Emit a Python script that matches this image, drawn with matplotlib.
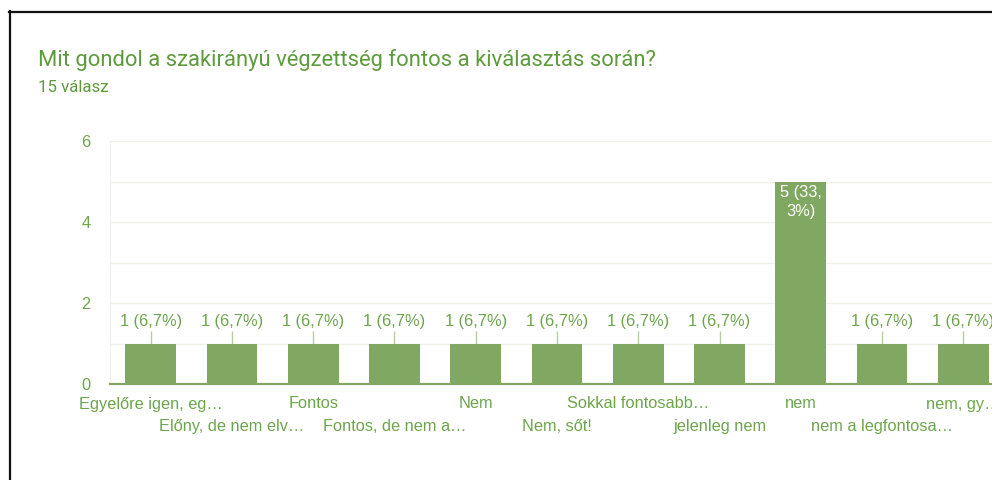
import matplotlib.pyplot as plt
from matplotlib.lines import Line2D

# answers and counts (15 responses)
categories = ["Egyelőre igen, eg…", "Előny, de nem elv…", "Fontos", "Fontos, de nem a…",
              "Nem", "Nem, sőt!", "Sokkal fontosabb…", "jelenleg nem", "nem",
              "nem a legfontosa…", "nem, gy…"]
counts = [1, 1, 1, 1, 1, 1, 1, 1, 5, 1, 1]
labels = ["1 (6,7%)"] * 8 + ["5 (33,\n3%)"] + ["1 (6,7%)"] * 2

title_col = "#5e9b3d"
text_col = "#6da54c"
bar_col = "#80a863"
grid_col = "#eef2e9"

fig = plt.figure(figsize=(9.92, 4.8), dpi=100)
ax = fig.add_axes([110 / 992, 96 / 480, 894 / 992, 243 / 480])

x = list(range(len(categories)))
ax.bar(x, counts, width=0.625, color=bar_col, zorder=3)
ax.set_xlim(-0.5, len(categories) - 0.5)
ax.set_ylim(0, 6)

ax.set_yticks([0, 2, 4, 6])
ax.set_yticks([1, 3, 5], minor=True)
ax.grid(axis="y", which="both", color=grid_col, lw=1, zorder=0)
ax.tick_params(axis="y", which="both", length=0, pad=14, labelsize=11.8, labelcolor=text_col)
for t in ax.get_yticklabels():
    t.set_fontfamily("Liberation Sans")

# staggered category labels: even ones on major ticks, odd ones on minor ticks one row lower
ax.set_xticks(x[0::2])
ax.set_xticklabels(categories[0::2], fontfamily="Liberation Sans", fontsize=11.8, color=text_col)
ax.set_xticks(x[1::2], minor=True)
ax.set_xticklabels(categories[1::2], minor=True, fontfamily="Liberation Sans",
                   fontsize=11.8, color=text_col)
ax.tick_params(axis="x", which="major", length=0, pad=9)
ax.tick_params(axis="x", which="minor", length=0, pad=25)

for s in ["top", "right"]:
    ax.spines[s].set_visible(False)
ax.spines["left"].set_color(grid_col)
ax.spines["bottom"].set_color(bar_col)
ax.spines["bottom"].set_linewidth(1.6)
ax.spines["bottom"].set_zorder(4)

top = max(counts)
for i, (v, lab) in enumerate(zip(counts, labels)):
    if v == top:
        ax.text(i, v - 0.5, lab, ha="center", va="center", color="white",
                fontsize=11.8, fontfamily="Liberation Sans", linespacing=1.3, zorder=5)
    else:
        ax.vlines(i, v, v + 0.3, color="#b5cfa3", lw=1, zorder=2)
        ax.text(i, v + 0.55, lab, ha="center", va="center", color=text_col,
                fontsize=11.8, fontfamily="Liberation Sans", zorder=5)

fig.text(38 / 992, 1 - 60 / 480, "Mit gondol a szakirányú végzettség fontos a kiválasztás során?",
         fontfamily="Roboto", fontsize=15.8, color=title_col, va="center")
fig.text(38 / 992, 1 - 87 / 480, "15 válasz", fontfamily="Roboto", fontsize=12.2,
         color=title_col, va="center")

# screenshot frame
fig.add_artist(Line2D([9 / 992, 1], [1 - 11.5 / 480] * 2, color="#111111", lw=1.6))
fig.add_artist(Line2D([9.5 / 992] * 2, [0, 1 - 11 / 480], color="#111111", lw=1.6))

fig.savefig("out.png", dpi=100)
